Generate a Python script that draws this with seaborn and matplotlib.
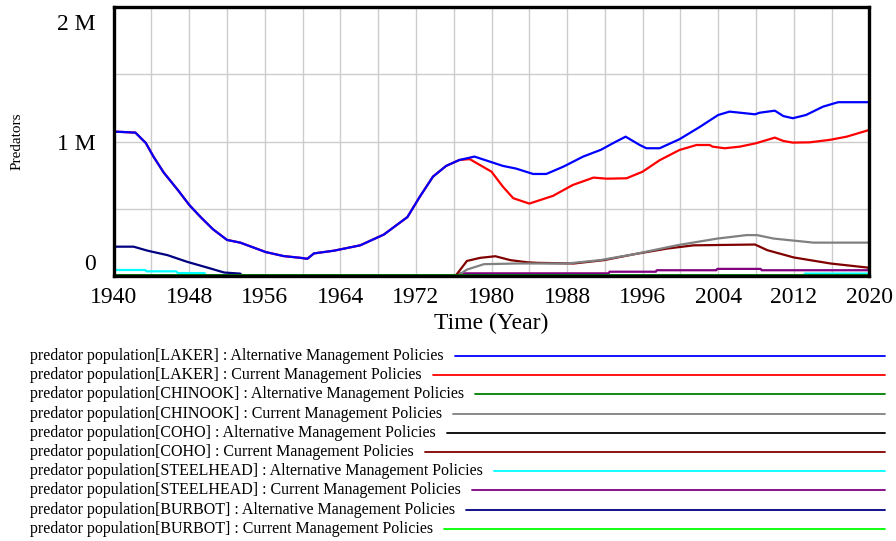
import matplotlib
matplotlib.use('Agg')
import matplotlib.pyplot as plt
import matplotlib.transforms as mtransforms
from matplotlib.lines import Line2D
import pandas as pd
import seaborn as sns

# --- data (values in millions of predators) ---
laker_alt_year = [1940, 1942.3, 1943.4, 1944.2, 1945.3, 1946.8, 1948.0, 1949.2, 1950.5, 1952.0,
                  1953.4, 1956.1, 1958.0, 1959.8, 1960.5, 1961.2, 1963.3, 1966.1, 1968.6, 1971.1,
                  1972.4, 1973.8, 1975.2, 1976.6, 1978.2, 1979.5, 1981.2, 1982.6, 1984.4, 1985.8,
                  1987.6, 1989.7, 1991.6, 1992.9, 1994.2, 1995.7, 1996.4, 1997.8, 1999.9, 2002.0,
                  2004.0, 2005.2, 2006.3, 2007.9, 2008.4, 2010.0, 2010.9, 2011.9, 2013.3, 2015.1,
                  2016.7, 2020]
laker_alt = [1.075, 1.067, 0.99, 0.89, 0.77, 0.64, 0.53, 0.44, 0.35, 0.27,
             0.25, 0.18, 0.15, 0.137, 0.13, 0.17, 0.19, 0.23, 0.31, 0.44,
             0.59, 0.74, 0.82, 0.864, 0.889, 0.859, 0.82, 0.80, 0.76, 0.76,
             0.814, 0.889, 0.94, 0.99, 1.037, 0.975, 0.951, 0.951, 1.018, 1.107,
             1.198, 1.223, 1.215, 1.203, 1.215, 1.23, 1.19, 1.174, 1.198, 1.26,
             1.293, 1.293]

laker_cur_year = [1940, 1942.3, 1943.4, 1944.2, 1945.3, 1946.8, 1948.0, 1949.2, 1950.5, 1952.0,
                  1953.4, 1956.1, 1958.0, 1959.8, 1960.5, 1961.2, 1963.3, 1966.1, 1968.6, 1971.1,
                  1972.4, 1973.8, 1975.2, 1976.6, 1977.7, 1980.0, 1981.2, 1982.3, 1984.0, 1986.5,
                  1988.6, 1990.8, 1992.2, 1994.3, 1996.0, 1997.8, 1999.9, 2001.7, 2003.1, 2003.4,
                  2004.7, 2006.3, 2008.0, 2010.0, 2010.9, 2011.9, 2013.7, 2015.8, 2017.6, 2020]
laker_cur = [1.075, 1.067, 0.99, 0.89, 0.77, 0.64, 0.53, 0.44, 0.35, 0.27,
             0.25, 0.18, 0.15, 0.137, 0.13, 0.17, 0.19, 0.23, 0.31, 0.44,
             0.59, 0.74, 0.82, 0.864, 0.87, 0.777, 0.666, 0.58, 0.54, 0.597,
             0.678, 0.733, 0.725, 0.728, 0.777, 0.862, 0.938, 0.975, 0.975, 0.963,
             0.951, 0.963, 0.988, 1.03, 1.005, 0.993, 0.995, 1.013, 1.037, 1.087]

chinook_alt_year = [1940, 2020]
chinook_alt = [0.013, 0.013]

chinook_cur_year = [1940, 1976.4, 1977.4, 1979.2, 1982.7, 1988.0, 1991.5, 1995.1, 1999.6,
                    2003.9, 2007.0, 2008.1, 2009.9, 2014.1, 2020]
chinook_cur = [0.004, 0.004, 0.05, 0.09, 0.095, 0.095, 0.12, 0.164, 0.23,
               0.28, 0.306, 0.306, 0.28, 0.25, 0.25]

coho_alt_year = [1940, 2020]
coho_alt = [0.004, 0.004]

coho_cur_year = [1940, 1976.2, 1977.4, 1978.8, 1980.4, 1982.0, 1983.8, 1984.8, 1988.7, 1991.9,
                 1995.1, 1998.6, 2001.4, 2007.9, 2009.2, 2012.0, 2015.9, 2019.8, 2020]
coho_cur = [0.004, 0.004, 0.114, 0.137, 0.149, 0.12, 0.104, 0.10, 0.095, 0.12,
            0.164, 0.206, 0.23, 0.236, 0.194, 0.14, 0.095, 0.065, 0.06]

steelhead_alt_year = [1940, 1943.3, 1943.5, 1946.6, 1946.8, 1949.6, 1949.8, 2013.0, 2013.2, 2020]
steelhead_alt = [0.047, 0.047, 0.037, 0.037, 0.024, 0.024, 0.006, 0.006, 0.02, 0.02]

steelhead_cur_year = [1940, 1976.4, 1976.7, 1992.4, 1992.5, 1997.4, 1997.5, 2003.8, 2003.9,
                      2008.5, 2008.6, 2020]
steelhead_cur = [0.004, 0.004, 0.022, 0.022, 0.034, 0.034, 0.045, 0.045, 0.055,
                 0.055, 0.045, 0.045]

burbot_alt_year = [1940, 1942.1, 1943.6, 1945.7, 1947.8, 1949.9, 1951.7, 1953.4, 1953.6, 2020]
burbot_alt = [0.22, 0.22, 0.19, 0.157, 0.107, 0.065, 0.028, 0.02, 0.004, 0.004]

burbot_cur_year = [1940, 2020]
burbot_cur = [0.004, 0.004]

series_names = [
    'predator population[LAKER] : Alternative Management Policies',
    'predator population[LAKER] : Current Management Policies',
    'predator population[CHINOOK] : Alternative Management Policies',
    'predator population[CHINOOK] : Current Management Policies',
    'predator population[COHO] : Alternative Management Policies',
    'predator population[COHO] : Current Management Policies',
    'predator population[STEELHEAD] : Alternative Management Policies',
    'predator population[STEELHEAD] : Current Management Policies',
    'predator population[BURBOT] : Alternative Management Policies',
    'predator population[BURBOT] : Current Management Policies',
]
series_data = [
    (laker_alt_year, laker_alt), (laker_cur_year, laker_cur),
    (chinook_alt_year, chinook_alt), (chinook_cur_year, chinook_cur),
    (coho_alt_year, coho_alt), (coho_cur_year, coho_cur),
    (steelhead_alt_year, steelhead_alt), (steelhead_cur_year, steelhead_cur),
    (burbot_alt_year, burbot_alt), (burbot_cur_year, burbot_cur),
]
colors = ['#0000FF', '#FF0000', '#008000', '#808080', '#000000',
          '#800000', '#00FFFF', '#800080', '#000080', '#00FF00']

frames = []
for name, (yrs, vals) in zip(series_names, series_data):
    frames.append(pd.DataFrame({'year': yrs, 'value': vals, 'series': name}))
df = pd.concat(frames, ignore_index=True)
palette = dict(zip(series_names, colors))

# --- figure ---
sns.set_theme(style='white')
plt.rcParams['font.family'] = ['Liberation Serif', 'DejaVu Serif']

fig = plt.figure(figsize=(8.96, 5.41), dpi=100)
ax = fig.add_axes([113.7 / 896, 1 - 276.3 / 541, (869.3 - 113.7) / 896, 269.3 / 541])

# draw near-zero series first so the visible ones sit on top
draw_order = [9, 4, 8, 6, 7, 5, 3, 2, 1, 0]
for i in draw_order:
    sub = df[df['series'] == series_names[i]]
    sns.lineplot(data=sub, x='year', y='value', color=palette[series_names[i]],
                 lw=2.0 if i == 2 else 1.6, ax=ax, estimator=None, sort=False, legend=False)

ax.set_xlim(1940, 2020)
ax.set_ylim(0, 2)
ax.set_xticks(range(1940, 2021, 4), minor=True)
ax.set_xticks(range(1940, 2021, 8))
ax.set_yticks([0, 0.5, 1, 1.5, 2])
ax.set_yticklabels(['0', '', '1 M', '', '2 M'])
ax.grid(True, which='both', color='#CCCCCC', lw=1)
ax.tick_params(axis='both', which='both', length=0, labelsize=17, colors='black')
ax.tick_params(axis='y', pad=13)
ax.tick_params(axis='x', pad=8)
for sp in ax.spines.values():
    sp.set_color('black')
    sp.set_linewidth(2.4)
ax.set_xlabel('Time (Year)', fontsize=17, color='black', labelpad=3)
ax.set_ylabel('')

# Vensim-style placement of end labels on the y axis
ylabels = ax.get_yticklabels()
ylabels[4].set_transform(ylabels[4].get_transform() +
                         mtransforms.ScaledTranslation(0, -0.15, fig.dpi_scale_trans))
ylabels[0].set_transform(ylabels[0].get_transform() +
                         mtransforms.ScaledTranslation(0, 0.14, fig.dpi_scale_trans))

fig.text(17 / 896, 1 - 141 / 541, 'Predators', rotation=90, fontsize=11,
         ha='center', va='center', color='black')

# legend rows: text then a colored line to the right edge
fig.canvas.draw()
renderer = fig.canvas.get_renderer()
for k, (name, col) in enumerate(zip(series_names, colors)):
    yf = 1 - (356 + k * 19.2) / 541
    t = fig.text(30 / 896, yf, name, fontsize=11.5, ha='left', va='center', color='black')
    ext = t.get_window_extent(renderer)
    x0 = (ext.x1 + 11) / 896
    fig.add_artist(Line2D([x0, 885 / 896], [yf, yf], color=col, lw=1.3,
                          transform=fig.transFigure))

fig.savefig('out.png', dpi=100)
